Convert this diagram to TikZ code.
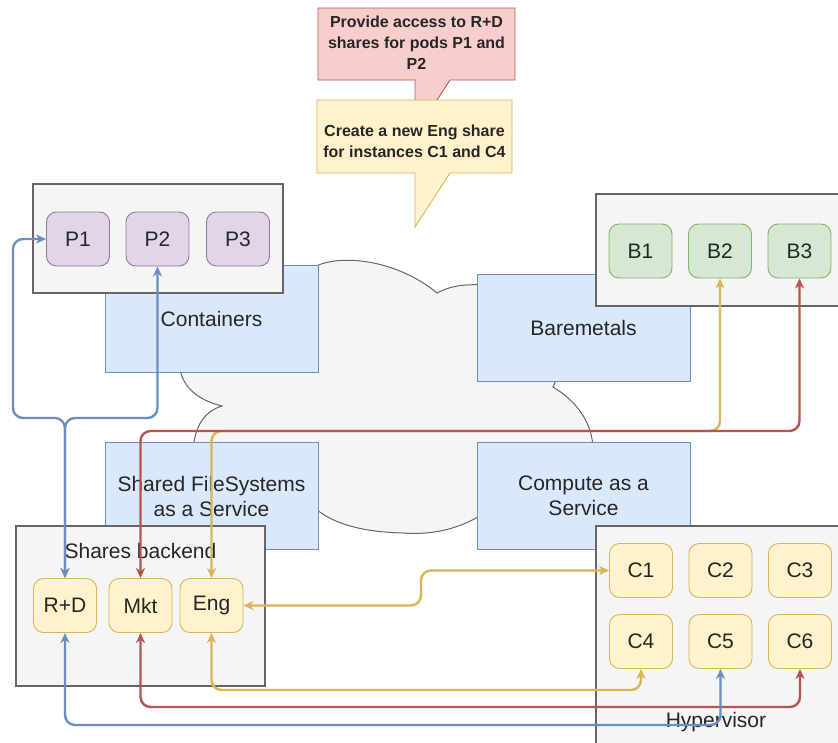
\documentclass[tikz,border=0pt]{standalone}
\usepackage{fontspec}
\setmainfont{Liberation Sans}
\usetikzlibrary{arrows.meta}
\definecolor{bluef}{HTML}{DAE8FC}\definecolor{blued}{HTML}{6C8EBF}
\definecolor{redf}{HTML}{F8CECC}\definecolor{redd}{HTML}{B85450}
\definecolor{yelf}{HTML}{FFF2CC}\definecolor{yeld}{HTML}{D6B656}
\definecolor{purf}{HTML}{E1D5E7}\definecolor{purd}{HTML}{9673A6}
\definecolor{grnf}{HTML}{D5E8D4}\definecolor{grnd}{HTML}{82B366}
\definecolor{grayf}{HTML}{F5F5F5}\definecolor{grayd}{HTML}{666666}
\begin{document}
\begin{tikzpicture}[x=1pt,y=-1pt,
  lbl/.style={font=\fontsize{21}{25}\selectfont,text=black!85,align=center},
  svc/.style={lbl,draw=blued,fill=bluef,line width=.9,minimum width=213,minimum height=107},
  grp/.style={draw=grayd,fill=grayf,line width=1.1},
  itm/.style={lbl,rounded corners=10,line width=.9,minimum width=63,minimum height=54},
  pod/.style={itm,draw=purd,fill=purf},
  bm/.style={itm,draw=grnd,fill=grnf},
  shr/.style={itm,draw=yeld,fill=yelf},
  note/.style={font=\fontsize{16}{21}\bfseries,text=black!85,align=center},
  link/.style={line width=2.4,rounded corners=10,{Stealth[length=10pt,width=9pt,inset=3pt]}-{Stealth[length=10pt,width=9pt,inset=3pt]}}]
  \clip (0,0) rectangle (838,742);
  \path (0,418) coordinate (fork) (0,431) coordinate (yt) (0,431) coordinate (rt)
    (421,0) coordinate (ym) (0,690) coordinate (yb) (0,707) coordinate (rb) (0,725) coordinate (bb);
  \draw[draw=grayd,fill=grayf,line width=1] (300,300) -- (316,266)
    .. controls (345,253) and (400,262) .. (437,293) .. controls (452,285) and (466,284) .. (490,285)
    -- (600,330) -- (557,378) -- (553,387) .. controls (575,400) and (593,422) .. (593,450)
    -- (500,500) -- (478,517) .. controls (455,530) and (430,535) .. (403,533)
    .. controls (365,532) and (335,525) .. (316,509) -- (250,480) -- (193,450)
    .. controls (195,425) and (205,411) .. (222,406) .. controls (198,400) and (184,388) .. (180,370) -- cycle;
  \node[svc] (cont) at (211.5,318.5) {Containers};
  \node[svc] (bare) at (583.5,327.5) {Baremetals};
  \node[svc] (sfs) at (211.5,496) {Shared FileSystems\\as a Service};
  \node[svc] (caas) at (583.5,496) {Compute as a\\Service};
  \node[grp,minimum width=250,minimum height=109] (podgrp) at (158,238.5) {};
  \node[grp,minimum width=250,minimum height=112] (bmgrp) at (721,250) {};
  \node[grp,minimum width=249,minimum height=160] (shgrp) at (140.5,606) {};
  \node[grp,minimum width=250,minimum height=234] (hvgrp) at (721,643) {};
  \node[lbl] (shlbl) at (140.5,551) {Shares backend};
  \node[lbl] (hvlbl) at (716,722) {Hypervisor};
  \foreach \n/\x in {P1/78,P2/157.5,P3/238} \node[pod] (\n) at (\x,239) {\n};
  \foreach \n/\x in {B1/640.5,B2/720,B3/799.5} \node[bm] (\n) at (\x,251) {\n};
  \foreach \n/\t/\x in {RD/R+D/65,Mkt/Mkt/140.5,Eng/Eng/211.5} \node[shr] (\n) at (\x,605.5) {\t};
  \foreach \n/\x/\y in {C1/641/570.5,C2/720.5/570.5,C3/800/570.5,C4/641/641.5,C5/720.5/641.5,C6/800/641.5}
    \node[shr] (\n) at (\x,\y) {\n};
  \draw[link,yeld] (Eng.north) |- (B2.south |- yt) -- (B2.south);
  \draw[link,yeld] (Eng.east) -- (Eng.east -| ym) |- (C1.west);
  \draw[link,yeld] (Eng.south) |- (C4.south |- yb) -- (C4.south);
  \draw[link,redd] (Mkt.north) |- (B3.south |- rt) -- (B3.south);
  \draw[link,redd] (Mkt.south) |- (C6.south |- rb) -- (C6.south);
  \draw[link,blued] (RD.north) |- (13,418) |- (P1.west);
  \draw[link,blued] (RD.north) |- (P2.south |- fork) -- (P2.south);
  \draw[link,blued] (RD.south) |- (C5.south |- bb) -- (C5.south);
  \draw[draw=redd,fill=redf,line width=.9] (318,8) -- (515,8) -- (515,80) -- (450,80) -- (415,134) -- (415,80) -- (318,80) -- cycle;
  \node[note] (rednote) at (416.5,43) {Provide access to R+D\\shares for pods P1 and\\P2};
  \draw[draw=yeld,fill=yelf,line width=.9] (317,100) -- (512,100) -- (512,173) -- (450,173) -- (415,227) -- (415,173) -- (317,173) -- cycle;
  \node[note] (yelnote) at (414.5,141) {Create a new Eng share\\for instances C1 and C4};
\end{tikzpicture}
\end{document}
